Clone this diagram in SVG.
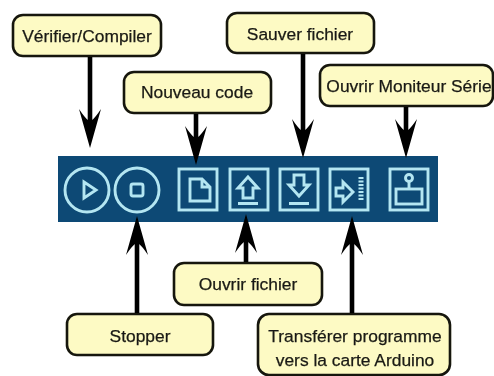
<svg xmlns="http://www.w3.org/2000/svg" width="494" height="376" viewBox="0 0 494 376">
<style>
.box{fill:#fdfac4;stroke:#16160f;stroke-width:2.6}
.lb{font-family:"Liberation Sans",Arial,sans-serif;font-size:17.4px;fill:#1a1a14;stroke:#1a1a14;stroke-width:.25;text-anchor:middle}
.wire{stroke:#000;stroke-width:4.6;fill:none}
.head{fill:#000}
.ic{fill:none;stroke:#b4e6f2;stroke-width:2.9}
.icf{fill:#b4e6f2}
</style>
<defs>
<filter id="soft" x="-5%" y="-5%" width="110%" height="110%"><feGaussianBlur stdDeviation="0.55"/></filter>
<path id="down" class="head" d="M0 0 L-11 -39 Q-5 -30 -2 -28 L2 -28 Q5 -30 11 -39 Z"/>
<path id="up" class="head" d="M0 0 L-11 39 Q-5 30 -2 28 L2 28 Q5 30 11 39 Z"/>
</defs>
<rect width="494" height="376" fill="#fff"/>
<g filter="url(#soft)">
<g id="toolbar">
<rect x="58" y="156" width="380" height="66" fill="#0d4a74"/>
<g id="icon-verify"><circle class="ic" cx="87" cy="190" r="22"/><path class="ic" d="M84 182 L96 190 L84 198 Z"/></g>
<g id="icon-stop"><circle class="ic" cx="137" cy="190" r="22"/><rect class="ic" x="131" y="184" width="12" height="12" rx="2"/></g>
<g id="icon-new"><rect class="ic" x="179" y="169" width="38" height="41"/><path class="ic" d="M190 179 H202 L210 187 V201 H190 Z M202 179 V187 H210"/></g>
<g id="icon-open"><rect class="ic" x="230" y="169" width="38" height="41"/><path class="ic" d="M248 177 L258 188 H253 V198 H243 V188 H238 Z"/><rect class="icf" x="238" y="202" width="20" height="3"/></g>
<g id="icon-save"><rect class="ic" x="280" y="169" width="38" height="41"/><path class="ic" d="M294 175 H304 V185 H309 L299 196 L289 185 H294 Z"/><rect class="icf" x="289" y="202" width="20" height="3"/></g>
<g id="icon-upload"><rect class="ic" x="330" y="169" width="38" height="41"/><path class="ic" d="M336 188 H343 V182 L353 192 L343 202 V196 H336 Z"/><path d="M361 177 V201" fill="none" stroke="#b4e6f2" stroke-width="5" stroke-dasharray="2 1.5"/></g>
<g id="icon-monitor"><rect class="ic" x="390" y="169" width="38" height="41"/><circle class="ic" cx="409" cy="178" r="3.5"/><path class="ic" d="M409 182 V188"/><rect class="ic" x="396" y="189" width="26" height="15"/></g>
</g>
<g id="connectors">
<path class="wire" d="M90 56 V125"/><use href="#down" x="90" y="148"/>
<path class="wire" d="M196 113 V140"/><use href="#down" x="196" y="165"/>
<path class="wire" d="M303 53 V130"/><use href="#down" x="303" y="158"/>
<path class="wire" d="M406 106 V130"/><use href="#down" x="406" y="158"/>
<path class="wire" d="M137 314 V240"/><use href="#up" x="137" y="216"/>
<path class="wire" d="M246 263 V240"/><use href="#up" x="246" y="214"/>
<path class="wire" d="M352 314 V240"/><use href="#up" x="352" y="216"/>
</g>
<g id="verifier"><rect class="box" x="13" y="15" width="148" height="41" rx="10"/><text class="lb" x="87" y="42">Vérifier/Compiler</text></g>
<g id="nouveau"><rect class="box" x="124" y="72" width="147" height="41" rx="10"/><text class="lb" x="197" y="98">Nouveau code</text></g>
<g id="sauver"><rect class="box" x="227" y="13" width="147" height="40" rx="10"/><text class="lb" x="300" y="40">Sauver fichier</text></g>
<g id="moniteur"><rect class="box" x="320" y="65" width="173" height="41" rx="10"/><text class="lb" x="409" y="92">Ouvrir Moniteur Série</text></g>
<g id="ouvrir"><rect class="box" x="174" y="263" width="148" height="42" rx="10"/><text class="lb" x="248" y="290">Ouvrir fichier</text></g>
<g id="stopper"><rect class="box" x="67" y="314" width="146" height="41" rx="10"/><text class="lb" x="140" y="342">Stopper</text></g>
<g id="transferer"><rect class="box" x="258" y="314" width="192" height="61" rx="11"/><text class="lb" x="355" y="342">Transférer programme</text><text class="lb" x="355" y="366">vers la carte Arduino</text></g>
</g>
</svg>
